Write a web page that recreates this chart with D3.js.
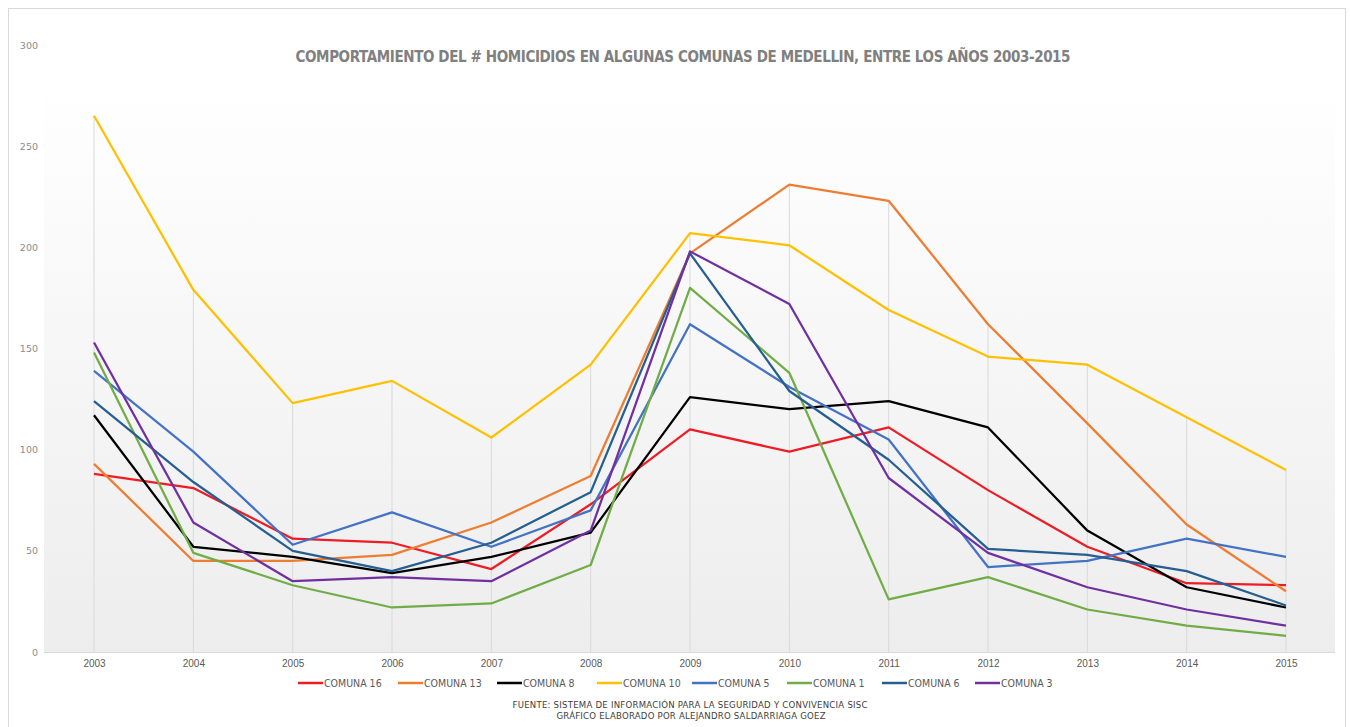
<!DOCTYPE html>
<html>
<head>
<meta charset="utf-8">
<script src="https://cdn.jsdelivr.net/npm/d3@7"></script>
<style>
  body { margin: 0; background: #fff; }
  svg { display: block; font-family: "Liberation Sans", "DejaVu Sans", sans-serif; }
  .narrow { font-family: "Liberation Sans Narrow", "DejaVu Sans Condensed", "Liberation Sans", sans-serif; }
</style>
</head>
<body>
<div id="chart"></div>
<script>
// years on the x axis
var years = ["2003","2004","2005","2006","2007","2008","2009","2010","2011","2012","2013","2014","2015"];

// homicides per comuna
var comuna16 = [88, 81, 56, 54, 41, 73, 110, 99, 111, 80, 52, 34, 33];
var comuna13 = [93, 45, 45, 48, 64, 87, 197, 231, 223, 162, 113, 63, 30];
var comuna8  = [117, 52, 47, 39, 47, 59, 126, 120, 124, 111, 60, 32, 22];
var comuna10 = [265, 179, 123, 134, 106, 142, 207, 201, 169, 146, 142, 116, 90];
var comuna5  = [139, 99, 53, 69, 52, 70, 162, 131, 105, 42, 45, 56, 47];
var comuna1  = [148, 49, 33, 22, 24, 43, 180, 138, 26, 37, 21, 13, 8];
var comuna6  = [124, 84, 50, 40, 54, 79, 197, 129, 95, 51, 48, 40, 23];
var comuna3  = [153, 64, 35, 37, 35, 60, 198, 172, 86, 49, 32, 21, 13];

var seriesNames  = ["COMUNA 16","COMUNA 13","COMUNA 8","COMUNA 10","COMUNA 5","COMUNA 1","COMUNA 6","COMUNA 3"];
var seriesValues = [comuna16, comuna13, comuna8, comuna10, comuna5, comuna1, comuna6, comuna3];
var seriesColors = ["#ee1c25","#ed7d31","#000000","#ffc000","#4472c4","#70ad47","#255e91","#7030a0"];

var yTicks = [0, 50, 100, 150, 200, 250, 300];

var width = 1350, height = 727;

var svg = d3.select("#chart").append("svg")
    .attr("width", width)
    .attr("height", height);

// outer frame
svg.append("rect")
    .attr("x", 8.5).attr("y", 8.5)
    .attr("width", 1337).attr("height", 740)
    .attr("fill", "#fff")
    .attr("stroke", "#d9d9d9");

var defs = svg.append("defs");
var grad = defs.append("linearGradient")
    .attr("id", "bg").attr("x1", 0).attr("y1", 0).attr("x2", 0).attr("y2", 1);
grad.append("stop").attr("offset", "0%").attr("stop-color", "#ffffff");
grad.append("stop").attr("offset", "100%").attr("stop-color", "#ededed");

var plotLeft = 44, plotRight = 1335, plotTop = 80, plotBottom = 652;

svg.append("rect")
    .attr("x", plotLeft).attr("y", plotTop)
    .attr("width", plotRight - plotLeft).attr("height", plotBottom - plotTop)
    .attr("fill", "url(#bg)");

var x = d3.scalePoint().domain(years).range([94, 1286]);
var y = d3.scaleLinear().domain([0, 300]).range([652, 45]);

// drop lines from the highest point of each year
years.forEach(function(yr, i) {
  var top = d3.max(seriesValues, function(s) { return s[i]; });
  svg.append("line")
      .attr("x1", x(yr)).attr("x2", x(yr))
      .attr("y1", y(top)).attr("y2", y(0))
      .attr("stroke", "#d9d9d9")
      .attr("stroke-width", 1);
});

// axis line
svg.append("line")
    .attr("x1", plotLeft).attr("x2", plotRight)
    .attr("y1", y(0) + 0.5).attr("y2", y(0) + 0.5)
    .attr("stroke", "#d9d9d9");

var yAxis = svg.append("g")
    .attr("transform", "translate(38,0)")
    .call(d3.axisLeft(y).tickValues(yTicks).tickSize(0).tickPadding(0));
yAxis.select(".domain").remove();
yAxis.selectAll("text")
    .attr("fill", "#8c8c8c")
    .style("font-family", "DejaVu Sans, sans-serif")
    .style("font-size", "9.5px");

var xAxis = svg.append("g")
    .attr("transform", "translate(0," + y(0) + ")")
    .call(d3.axisBottom(x).tickSize(0).tickPadding(8));
xAxis.select(".domain").remove();
xAxis.selectAll("text")
    .attr("fill", "#595959")
    .style("font-size", "10px");

var line = d3.line()
    .x(function(d, i) { return x(years[i]); })
    .y(function(d) { return y(d); });

seriesValues.forEach(function(vals, k) {
  svg.append("path")
      .datum(vals)
      .attr("d", line)
      .attr("fill", "none")
      .attr("stroke", seriesColors[k])
      .attr("stroke-width", 2.25)
      .attr("stroke-linejoin", "round");
});

// title
svg.append("text")
    .attr("class", "narrow")
    .attr("x", 683).attr("y", 62)
    .attr("text-anchor", "middle")
    .attr("fill", "#808080")
    .style("font-size", "15px")
    .style("font-weight", "bold")
    .attr("textLength", 775)
    .attr("lengthAdjust", "spacing")
    .text("COMPORTAMIENTO  DEL # HOMICIDIOS  EN  ALGUNAS  COMUNAS  DE  MEDELLIN,  ENTRE  LOS  AÑOS  2003-2015");

// legend
var legendX = [298, 398, 497, 597, 692, 787, 882, 975];
var legend = svg.append("g").selectAll("g")
    .data(seriesNames)
    .enter().append("g")
    .attr("transform", function(d, i) { return "translate(" + legendX[i] + ",683)"; });
legend.append("line")
    .attr("x1", 0).attr("x2", 25)
    .attr("stroke", function(d, i) { return seriesColors[i]; })
    .attr("stroke-width", 2.5);
legend.append("text")
    .attr("class", "narrow")
    .attr("x", 26).attr("dy", "0.35em")
    .attr("fill", "#595959")
    .style("font-size", "10.5px")
    .text(function(d) { return d; });

// footer
svg.append("text")
    .attr("class", "narrow")
    .attr("x", 690).attr("y", 708)
    .attr("text-anchor", "middle")
    .attr("fill", "#404040")
    .style("font-size", "9.5px")
    .attr("textLength", 355)
    .text("FUENTE: SISTEMA DE INFORMACIÓN PARA LA SEGURIDAD Y CONVIVENCIA SISC");
svg.append("text")
    .attr("class", "narrow")
    .attr("x", 691).attr("y", 719)
    .attr("text-anchor", "middle")
    .attr("fill", "#404040")
    .style("font-size", "9.5px")
    .attr("textLength", 269)
    .text("GRÁFICO ELABORADO POR ALEJANDRO SALDARRIAGA GOEZ");
</script>
</body>
</html>
